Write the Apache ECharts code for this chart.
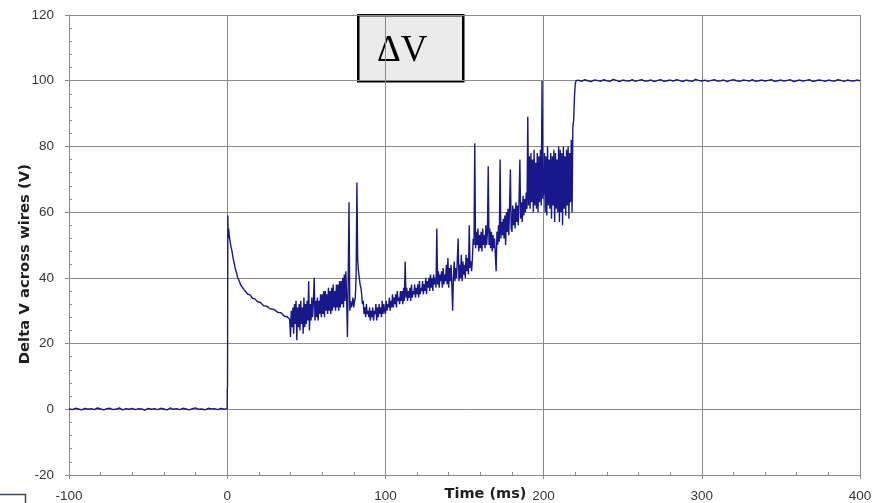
<!DOCTYPE html>
<html>
<head>
<meta charset="utf-8">
<script src="https://cdn.jsdelivr.net/npm/echarts@6/dist/echarts.min.js"></script>
<style>
  html, body { margin: 0; padding: 0; background: #ffffff; }
  #chart { width: 884px; height: 503px; }
</style>
</head>
<body>
<div id="chart"></div>
<script>
// Voltage across the wires, recorded in three pieces.

// Before the trigger: sampled every 2 ms from -100 ms.
const preStart = -100;
const preStep = 2;
const preVolts = [
  0.2, -0.1, 0.3, 0.1, -0.2, 0.3, 0.0, 0.2, -0.1, 0.4,
  0.1, -0.2, 0.2, 0.3, -0.1, 0.1, 0.4, -0.2, 0.2, 0.0,
  0.3, -0.1, 0.2, 0.1, -0.3, 0.3, 0.0, 0.2, -0.1, 0.3,
  0.1, -0.2, 0.4, 0.0, 0.2, -0.1, 0.3, 0.1, -0.2, 0.2,
  0.4, 0.0, 0.1, -0.2, 0.3, 0.1, 0.2, -0.1, 0.3, 0.0,
  0.2
];

// Trigger step and the decay that follows: [ms, V]
const decayPoints = [
  [0.05, 6], [0.2, 7], [0.4, 59], [0.6, 52], [0.9, 55], [1.3, 53],
  [1.8, 51.2], [2.4, 49.4], [3.0, 48.2], [3.6, 46.3], [4.3, 44.8],
  [5.0, 43.0], [5.8, 41.7], [6.6, 40.1], [7.5, 39.2], [8.5, 37.9],
  [9.5, 37.4], [10.5, 36.5], [11.6, 36.2], [13.0, 35.0], [14.5, 34.8],
  [16.0, 33.8], [17.5, 33.6], [19.0, 32.8], [21.0, 32.5], [23.0, 31.5],
  [25.0, 31.4], [27.0, 30.6], [29.5, 30.4], [32.0, 29.5], [34.0, 29.4],
  [36.0, 28.4], [38.0, 28.1], [39.5, 27.4]
];

// Arcing phase: sampled every 0.5 ms from 40 ms (one row = 5 ms).
const arcStart = 40;
const arcStep = 0.5;
const arcVolts = [
  22, 30, 25, 31, 23, 32, 26, 33, 21, 31,
  25, 32, 24, 33, 26, 31, 23, 34, 25, 32,
  26, 33, 27, 39, 24, 32, 27, 34, 28, 33,
  40, 27, 33, 28, 34, 27, 33, 29, 35, 28,
  35, 29, 36, 28, 36, 30, 35, 29, 37, 30,
  36, 29, 37, 30, 38, 31, 36, 30, 38, 31,
  38, 30, 39, 31, 39, 32, 40, 31, 41, 33,
  42, 34, 22, 40, 63, 30, 33, 31, 32, 34,
  31, 33, 34, 41, 69, 45, 42, 40, 38, 37,
  35, 32, 33, 29, 31, 28, 32, 29, 30, 28,
  31, 27, 30, 28, 31, 27, 30, 29, 32, 27,
  31, 28, 32, 29, 31, 28, 33, 29, 32, 30,
  29, 33, 30, 32, 31, 34, 30, 33, 31, 35,
  31, 34, 32, 35, 31, 36, 33, 34, 32, 36,
  33, 36, 32, 37, 33, 45, 34, 37, 33, 36,
  34, 37, 33, 38, 34, 36, 35, 38, 34, 37,
  35, 38, 34, 39, 35, 37, 36, 39, 35, 38,
  36, 40, 35, 39, 37, 40, 36, 41, 37, 40,
  36, 41, 38, 40, 37, 55, 38, 42, 37, 41,
  39, 42, 37, 43, 38, 41, 39, 44, 38, 46,
  37, 43, 39, 44, 38, 30, 40, 45, 39, 43,
  40, 46, 52, 39, 44, 40, 47, 39, 45, 41,
  44, 40, 47, 42, 46, 41, 56, 43, 45, 42,
  46, 52, 50, 81, 49, 54, 50, 55, 48, 53,
  49, 54, 48, 55, 50, 53, 49, 56, 50, 54,
  74, 50, 55, 49, 54, 48, 53, 49, 52, 47,
  42, 54, 50, 56, 51, 76, 52, 57, 53, 58,
  52, 59, 50, 60, 54, 61, 53, 62, 73, 55,
  54, 62, 56, 61, 55, 63, 57, 62, 56, 64,
  76, 58, 63, 57, 65, 59, 64, 60, 66, 61,
  89, 62, 77, 61, 78, 63, 76, 60, 79, 62,
  75, 61, 78, 60, 77, 63, 79, 62, 100, 64,
  66, 78, 60, 77, 59, 80, 62, 76, 61, 78,
  58, 77, 62, 79, 57, 78, 61, 76, 60, 80,
  57, 79, 60, 78, 56, 80, 61, 77, 59, 79,
  62, 80, 58, 78, 63, 82, 60, 86, 88, 95,
  99, 100, 100
];

// Open circuit after the break: sampled every 2 ms from 222 ms.
const postStart = 222;
const postStep = 2;
const postVolts = [
  100.2, 99.8, 100.3, 100.0, 99.7, 100.2, 100.1, 99.8, 100.3, 100.0,
  99.8, 100.4, 100.1, 99.7, 100.2, 100.0, 99.9, 100.3, 99.8, 100.1,
  100.3, 99.9, 100.0, 100.2, 99.7, 100.1, 100.3, 99.8, 100.0, 100.2,
  99.9, 100.3, 100.1, 99.7, 100.2, 100.0, 99.8, 100.4, 100.1, 99.9,
  100.2, 99.8, 100.1, 100.3, 99.9, 100.0, 100.2, 99.7, 100.1, 100.3,
  100.0, 99.8, 100.2, 100.1, 99.9, 100.3, 99.8, 100.0, 100.2, 99.9,
  100.1, 100.3, 99.8, 100.0, 100.2, 99.9, 100.1, 100.3, 99.7, 100.0,
  100.2, 99.9, 100.1, 100.3, 99.8, 100.0, 100.2, 100.1, 99.8, 100.2,
  100.0, 99.9, 100.3, 100.1, 99.8, 100.2, 100.0, 99.9, 100.2, 100.0
];

// Axis settings
const xMin = -100, xMax = 400, xInterval = 100;
const yMin = -20, yMax = 120, yInterval = 20;
const xTitle = 'Time (ms)';
const yTitle = 'Delta V across wires (V)';
const boxLabel = '\u0394V';

function sampled(start, step, values) {
  return values.map((v, i) => [start + step * i, v]);
}

const trace = [].concat(
  sampled(preStart, preStep, preVolts),
  decayPoints,
  sampled(arcStart, arcStep, arcVolts),
  sampled(postStart, postStep, postVolts)
);

const gray = '#8a8a8a';
const tickFont = 'Arial, "Liberation Sans", sans-serif';
const titleFont = '"DejaVu Sans", Verdana, sans-serif';
const labelStyle = { color: '#363636', fontFamily: tickFont, fontSize: 13.5 };

const chart = echarts.init(document.getElementById('chart'), null, { renderer: 'canvas' });
chart.setOption({
  animation: false,
  backgroundColor: '#ffffff',
  grid: { left: 69, right: 24, top: 15, bottom: 28, containLabel: false, outerBoundsMode: 'none' },
  xAxis: [
    {
      type: 'value', min: xMin, max: xMax, interval: xInterval, position: 'bottom',
      axisLine: { onZero: false, lineStyle: { color: gray, width: 1 } },
      axisTick: { show: true, length: 4, lineStyle: { color: gray } },
      splitLine: { show: true, lineStyle: { color: gray, width: 1 } },
      axisLabel: Object.assign({ margin: 14 }, labelStyle),
      name: xTitle, nameLocation: 'middle', nameGap: 12, nameMoveOverlap: false,
      nameTextStyle: { fontWeight: 'bold', fontSize: 14.5, color: '#1e1e1e', fontFamily: titleFont, padding: [0, 0, 0, 42] }
    },
    {
      type: 'value', min: xMin, max: xMax, interval: xInterval, position: 'bottom',
      axisLine: { show: false, onZero: false },
      axisTick: { show: false, inside: true },
      axisLabel: { show: false },
      splitLine: { show: false },
      minorTick: { show: true, splitNumber: 5, length: 3, lineStyle: { color: gray } }
    }
  ],
  yAxis: [
    {
      type: 'value', min: yMin, max: yMax, interval: yInterval, position: 'left',
      axisLine: { show: true, onZero: false, lineStyle: { color: gray, width: 1 } },
      axisTick: { show: true, length: 4, lineStyle: { color: gray } },
      splitLine: { show: true, lineStyle: { color: gray, width: 1 } },
      axisLabel: Object.assign({ margin: 15 }, labelStyle)
    },
    {
      type: 'value', min: yMin, max: yMax, interval: yInterval, position: 'left',
      axisLine: { show: false, onZero: false },
      axisTick: { show: false, inside: true },
      axisLabel: { show: false },
      splitLine: { show: false },
      minorTick: { show: true, splitNumber: 5, length: 3, lineStyle: { color: gray } }
    }
  ],
  series: [
    {
      type: 'line',
      xAxisIndex: 0, yAxisIndex: 0,
      data: trace,
      showSymbol: false,
      sampling: null,
      lineStyle: { color: '#18188a', width: 1.4 },
      z: 3
    }
  ],
  graphic: [
    {
      // vertical axis title
      type: 'text', left: 18, top: 164, z: 10,
      rotation: Math.PI / 2,
      style: { text: yTitle, fill: '#1e1e1e', font: 'bold 14.8px ' + titleFont }
    },
    {
      type: 'group', left: 357, top: 14, z: 10,
      children: [
        { type: 'rect', shape: { x: 0, y: 0, width: 105, height: 66 },
          style: { fill: '#ebebeb', stroke: '#000000', lineWidth: 2.5 } },
        { type: 'text', x: 44, y: 36,
          style: { text: boxLabel, fill: '#000000', font: '37px "Liberation Serif", "Times New Roman", serif',
                   textAlign: 'center', textVerticalAlign: 'middle' } }
      ]
    },
    {
      // edge of the neighbouring frame in the lower-left corner
      type: 'rect', left: -4, top: 492, z: 10,
      shape: { x: 0, y: 0, width: 27, height: 20 },
      style: { fill: 'none', stroke: '#3e4a5a', lineWidth: 1.5 }
    }
  ]
});
</script>
</body>
</html>
